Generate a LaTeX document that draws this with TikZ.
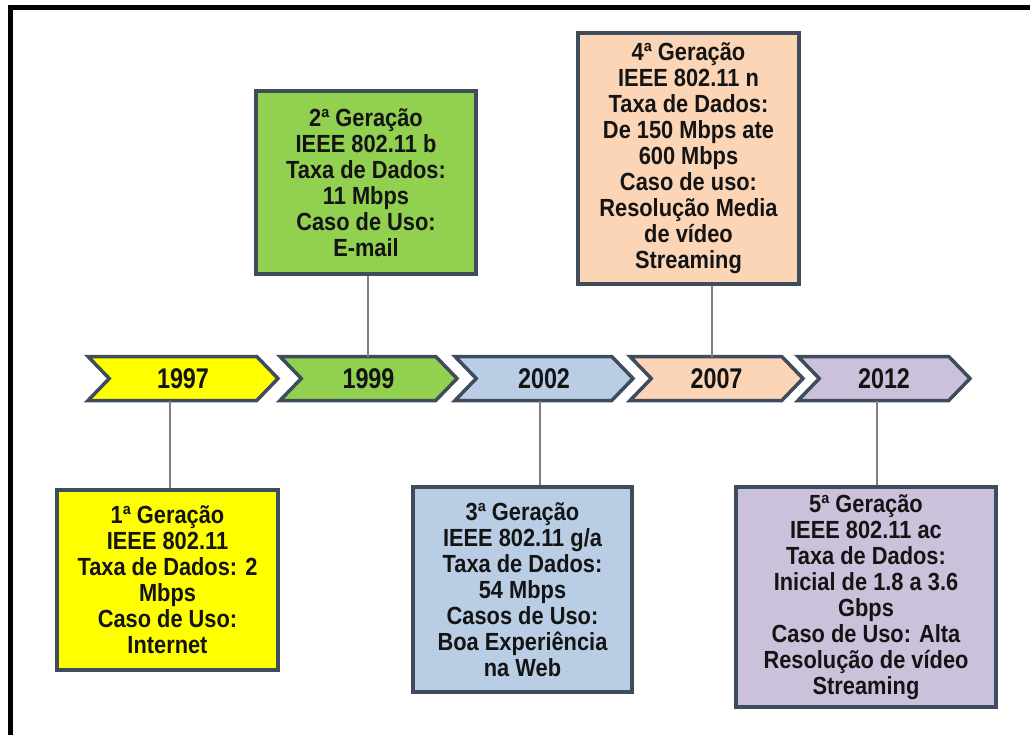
\documentclass[tikz,border=0pt]{standalone}
\usepackage{fontspec}
\usetikzlibrary{shapes.symbols}
\newfontfamily\lsans{Liberation Sans}[FakeStretch=0.88]
\newfontfamily\ysans{Liberation Sans}[FakeStretch=0.82]
\definecolor{edge}{HTML}{3E4C5C}
\definecolor{cyel}{HTML}{FFFF00}
\definecolor{cgrn}{HTML}{92D050}
\definecolor{cblu}{HTML}{B9CDE5}
\definecolor{cpch}{HTML}{FBD5B5}
\definecolor{clav}{HTML}{CCC1DA}
\definecolor{ink}{HTML}{141414}
\definecolor{wire}{HTML}{808080}
\tikzset{
  year/.style={shape=signal, signal to=east, signal from=west, signal pointer angle=92,
    draw=edge, line width=3.5pt, inner sep=0pt, outer sep=0pt, minimum height=44pt,
    text=ink, font=\ysans\bfseries\fontsize{28.5}{30}\selectfont},
  infobox/.style={rectangle, draw=edge, line width=3.5pt, inner sep=0pt, outer sep=1.75pt, align=center,
    text=ink, font=\lsans\bfseries\fontsize{24.8}{26}\selectfont},
  wireline/.style={draw=wire, line width=1.2pt}
}
\begin{document}
\begin{tikzpicture}[x=1pt,y=-1pt]
\useasboundingbox (0,0) rectangle (1030,735);
\fill[white] (0,0) rectangle (1030,735);
% frame
\draw[line width=5pt, black] (10.5,735) -- (10.5,7.5) -- (1030,7.5);
% chevrons
\node[year, fill=cyel, minimum width=190pt] (y1997) at (183,378.5) {1997};
\node[year, fill=cgrn, minimum width=177pt] (y1999) at (368.5,378.5) {1999};
\node[year, fill=cblu, minimum width=178pt] (y2002) at (544,378.5) {2002};
\node[year, fill=cpch, minimum width=173pt] (y2007) at (716.5,378.5) {2007};
\node[year, fill=clav, minimum width=172pt] (y2012) at (884,378.5) {2012};
% boxes
\node[infobox, fill=cyel, minimum width=221pt, minimum height=180pt] (b1) at (167.5,580)
  {1ª Geração\\IEEE 802.11\\Taxa de Dados: 2\\Mbps\\Caso de Uso:\\Internet};
\node[infobox, fill=cgrn, minimum width=220pt, minimum height=183pt] (b2) at (366,182.5)
  {2ª Geração\\IEEE 802.11 b\\Taxa de Dados:\\11 Mbps\\Caso de Uso:\\E-mail};
\node[infobox, fill=cblu, minimum width=219pt, minimum height=205pt] (b3) at (522.5,589.5)
  {3ª Geração\\IEEE 802.11 g/a\\Taxa de Dados:\\54 Mbps\\Casos de Uso:\\Boa Experiência\\na Web};
\node[infobox, fill=cpch, minimum width=221pt, minimum height=251pt] (b4) at (688.5,158.5)
  {4ª Geração\\IEEE 802.11 n\\Taxa de Dados:\\De 150 Mbps ate\\600 Mbps\\Caso de uso:\\Resolução Media\\de vídeo\\Streaming};
\node[infobox, fill=clav, minimum width=260pt, minimum height=220pt] (b5) at (866,597)
  {5ª Geração\\IEEE 802.11 ac\\Taxa de Dados:\\Inicial de 1.8 a 3.6\\Gbps\\Caso de Uso: Alta\\Resolução de vídeo\\Streaming};
% connector x positions
\coordinate (k1) at (170,0);
\coordinate (k2) at (368,0);
\coordinate (k3) at (540,0);
\coordinate (k4) at (712,0);
\coordinate (k5) at (877,0);
\draw[wireline] (k1 |- y1997.south) -- (k1 |- b1.north);
\draw[wireline] (k2 |- b2.south) -- (k2 |- y1999.north);
\draw[wireline] (k3 |- y2002.south) -- (k3 |- b3.north);
\draw[wireline] (k4 |- b4.south) -- (k4 |- y2007.north);
\draw[wireline] (k5 |- y2012.south) -- (k5 |- b5.north);
\end{tikzpicture}
\end{document}
